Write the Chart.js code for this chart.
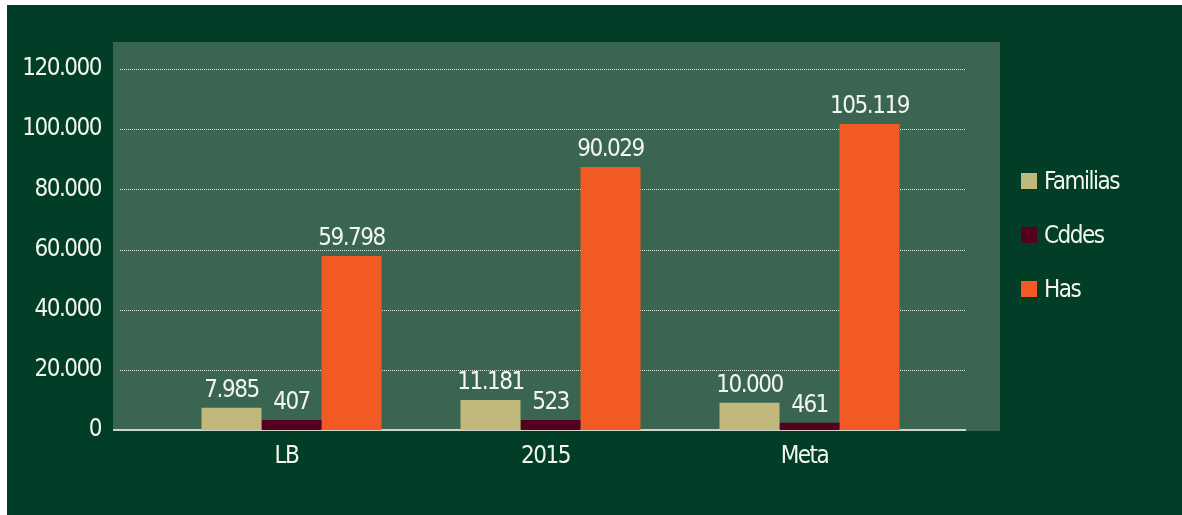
<!DOCTYPE html>
<html lang="es">
<head>
<meta charset="utf-8">
<title>Familias, Cddes y Has</title>
<script src="https://cdn.jsdelivr.net/npm/chart.js@4.4.1/dist/chart.umd.min.js"></script>
<style>
  html, body { margin: 0; padding: 0; background: #fff; }
  body {
    width: 1182px; height: 515px; position: relative; overflow: hidden;
    font-family: "Liberation Sans Narrow", "DejaVu Sans Condensed", sans-serif;
  }
  #panel { position: absolute; left: 7px; top: 5px; right: 0; bottom: 0; background: #013d27; }
  #chart { position: absolute; left: 0; top: 0; }
  #legend { position: absolute; left: 1021px; top: 154px; }
  .item { height: 54px; display: flex; align-items: center; color: #f3f5f0; font-size: 24px; letter-spacing: -1.5px; }
  .box { width: 16px; height: 16px; margin-right: 7px; }
</style>
</head>
<body>
<div id="panel"></div>
<canvas id="chart" width="1182" height="515"></canvas>
<div id="legend"></div>

<script>
// Categories and series
const categories = ['LB', '2015', 'Meta'];
const seriesNames = ['Familias', 'Cddes', 'Has'];
const seriesColors = ['#c1b97c', '#56001f', '#f25a23'];

// Bar heights as drawn in the picture
const familias = [7400, 9970, 9070];
const cddes = [3320, 3320, 2430];
const has = [57840, 87400, 101700];

// Values printed above the bars
const familiasLabels = [7985, 11181, 10000];
const cddesLabels = [407, 523, 461];
const hasLabels = [59798, 90029, 105119];

// Y axis ticks
const yTicks = [0, 20000, 40000, 60000, 80000, 100000, 120000];

const FONT = '"Liberation Sans Narrow", "DejaVu Sans Condensed", sans-serif';
const FONT_SIZE = 24;
const SPACING = '-1.5px'; // tighten the fallback font toward the narrow original
const TEXT = '#f3f5f0';

// 12345 -> "12.345"
function fmt(n) {
    return String(n).replace(/\B(?=(\d{3})+(?!\d))/g, '.');
}

// Panel, dotted grid and base line behind the bars
const backdrop = {
    id: 'backdrop',
    beforeDraw(chart) {
        chart.ctx.letterSpacing = SPACING;
    },
    beforeDatasetsDraw(chart) {
        const {ctx, chartArea, scales} = chart;
        const y = scales.y;
        const zero = y.getPixelForValue(0);
        ctx.save();
        ctx.fillStyle = '#3a6651';
        ctx.fillRect(chartArea.left - 49, chartArea.top, chartArea.right - chartArea.left + 110, zero - chartArea.top + 1);

        ctx.strokeStyle = '#e4ebe4';
        ctx.lineWidth = 1;
        ctx.setLineDash([1, 1]);
        yTicks.slice(1).forEach(v => {
            const py = Math.round(y.getPixelForValue(v)) + 0.5;
            ctx.beginPath();
            ctx.moveTo(chartArea.left - 42, py);
            ctx.lineTo(chartArea.right + 27, py);
            ctx.stroke();
        });
        ctx.setLineDash([]);
        ctx.strokeStyle = '#cdd5cb';
        ctx.lineWidth = 2;
        ctx.beginPath();
        ctx.moveTo(chartArea.left - 49, zero);
        ctx.lineTo(chartArea.right + 27, zero);
        ctx.stroke();
        ctx.restore();
    }
};

// Value labels over each bar
const valueLabels = {
    id: 'valueLabels',
    afterDatasetsDraw(chart) {
        const {ctx} = chart;
        ctx.save();
        ctx.font = FONT_SIZE + 'px ' + FONT;
        ctx.letterSpacing = SPACING;
        ctx.fillStyle = TEXT;
        ctx.textAlign = 'center';
        ctx.textBaseline = 'alphabetic';
        chart.data.datasets.forEach((ds, i) => {
            chart.getDatasetMeta(i).data.forEach((bar, j) => {
                ctx.fillText(fmt(ds.valueLabels[j]), bar.x, bar.y - 11);
            });
        });
        ctx.restore();
    }
};

const valueSets = [familias, cddes, has];
const labelSets = [familiasLabels, cddesLabels, hasLabels];

new Chart(document.getElementById('chart'), {
    type: 'bar',
    data: {
        labels: categories,
        datasets: seriesNames.map((name, i) => ({
            label: name,
            data: valueSets[i],
            valueLabels: labelSets[i],
            backgroundColor: seriesColors[i],
            borderWidth: 0,
            barPercentage: 1,
            categoryPercentage: 0.695
        }))
    },
    options: {
        responsive: false,
        animation: false,
        layout: { padding: { left: 0, top: 42, right: 243, bottom: 45 } },
        plugins: {
            legend: { display: false },
            tooltip: { enabled: false }
        },
        scales: {
            x: {
                grid: { display: false, drawTicks: false },
                border: { display: false },
                ticks: { color: TEXT, font: { family: FONT, size: FONT_SIZE }, padding: 12, labelOffset: -5 },
                afterFit: s => { s.height = 40; }
            },
            y: {
                min: 0,
                max: 129000,
                grid: { display: false, drawTicks: false },
                border: { display: false },
                ticks: {
                    color: TEXT,
                    font: { family: FONT, size: FONT_SIZE },
                    padding: 61,
                    callback: v => fmt(v)
                },
                afterBuildTicks: s => { s.ticks = yTicks.map(v => ({value: v})); },
                // fixed width; the big tick padding must not push the plot down
                afterFit: s => { s.width = 162; s.paddingTop = 0; s.paddingBottom = 0; }
            }
        }
    },
    plugins: [backdrop, valueLabels]
});

// Legend on the right
const legend = document.getElementById('legend');
seriesNames.forEach((name, i) => {
    const row = document.createElement('div');
    row.className = 'item';
    row.innerHTML = `<span class="box" style="background:${seriesColors[i]}"></span><span>${name}</span>`;
    legend.appendChild(row);
});
</script>
</body>
</html>
